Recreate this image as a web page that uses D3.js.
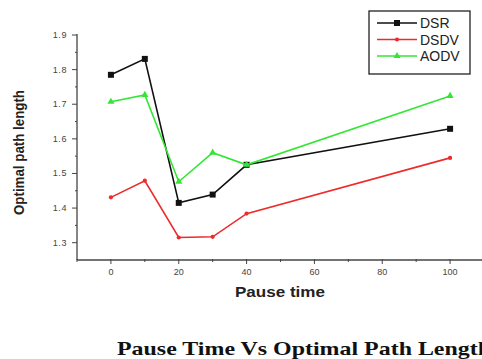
<!DOCTYPE html>
<html>
<head>
<meta charset="utf-8">
<title>Pause Time Vs Optimal Path Length</title>
<style>
  body { margin: 0; background: #fff; }
  svg { display: block; }
</style>
</head>
<body>
<script src="https://cdn.jsdelivr.net/npm/d3@7"></script>
<script>
var pauseTimes = [0, 10, 20, 30, 40, 100];
var dsr  = [1.785, 1.831, 1.415, 1.439, 1.525, 1.629];
var dsdv = [1.431, 1.479, 1.315, 1.317, 1.384, 1.545];
var aodv = [1.707, 1.727, 1.476, 1.560, 1.525, 1.724];
var xTicks = [0, 20, 40, 60, 80, 100];
var yTicks = [1.3, 1.4, 1.5, 1.6, 1.7, 1.8, 1.9];

var series = [
  {name: "DSR",  values: dsr,  color: "#111111", symbol: d3.symbolSquare,   size: 36},
  {name: "DSDV", values: dsdv, color: "#ee2a2a", symbol: d3.symbolCircle,   size: 14},
  {name: "AODV", values: aodv, color: "#33e633", symbol: d3.symbolTriangle, size: 22}
];

var width = 482, height = 359;
var sans = "Liberation Sans, Arial, sans-serif";
var svg = d3.select("body").append("svg")
    .attr("width", width)
    .attr("height", height);

var x = d3.scaleLinear().domain([-10, 110]).range([77, 484]);
var y = d3.scaleLinear().domain([1.25, 1.9]).range([260, 35]);

// axes
var xAxis = svg.append("g").attr("transform", "translate(0,260)");
xAxis.append("line").attr("x1", x(-10)).attr("x2", width).attr("stroke", "#444").attr("stroke-width", 1.3);
xAxis.selectAll(".tk").data(d3.range(-10, 111, 10)).enter().append("line")
    .attr("x1", function(d){return x(d);}).attr("x2", function(d){return x(d);})
    .attr("y1", -1).attr("y2", function(d){return d % 20 === 0 ? 4 : 2;})
    .attr("stroke", "#444");
xAxis.selectAll("text").data(xTicks).enter().append("text")
    .attr("x", function(d){return x(d);}).attr("y", 15)
    .attr("text-anchor", "middle")
    .attr("font-family", sans)
    .attr("font-size", 9).attr("fill", "#444")
    .text(function(d){return d;});

var yAxis = svg.append("g").attr("transform", "translate(77,0)");
yAxis.append("line").attr("y1", y(1.9) - 1).attr("y2", 260).attr("stroke", "#444").attr("stroke-width", 1.3);
yAxis.selectAll(".tk").data(d3.range(1.3, 1.91, 0.05)).enter().append("line")
    .attr("y1", function(d){return y(d);}).attr("y2", function(d){return y(d);})
    .attr("x1", function(d, i){return i % 2 === 0 ? -5 : -2;}).attr("x2", 0)
    .attr("stroke", "#444");
yAxis.selectAll("text").data(yTicks).enter().append("text")
    .attr("x", -10).attr("y", function(d){return y(d) + 3;})
    .attr("text-anchor", "end")
    .attr("font-family", sans)
    .attr("font-size", 9).attr("fill", "#444")
    .attr("letter-spacing", 0.6)
    .text(function(d){return d.toFixed(1);});

// axis titles
svg.append("text")
    .attr("x", 235).attr("y", 297)
    .attr("textLength", 90).attr("lengthAdjust", "spacingAndGlyphs")
    .attr("font-family", sans)
    .attr("font-size", 14).attr("font-weight", "bold").attr("fill", "#222")
    .text("Pause time");
svg.append("text")
    .attr("transform", "translate(24,215) rotate(-90)")
    .attr("textLength", 125).attr("lengthAdjust", "spacingAndGlyphs")
    .attr("font-family", sans)
    .attr("font-size", 14).attr("font-weight", "bold").attr("fill", "#222")
    .text("Optimal path length");

// lines
var line = d3.line()
    .x(function(d, i){return x(pauseTimes[i]);})
    .y(function(d){return y(d);});

series.forEach(function(s){
  svg.append("path")
      .datum(s.values)
      .attr("d", line)
      .attr("fill", "none")
      .attr("stroke", s.color)
      .attr("stroke-width", 1.6);
  svg.selectAll(".m-" + s.name).data(s.values).enter().append("path")
      .attr("class", "m-" + s.name)
      .attr("d", d3.symbol().type(s.symbol).size(s.size))
      .attr("transform", function(d, i){return "translate(" + x(pauseTimes[i]) + "," + y(d) + ")";})
      .attr("fill", s.color);
});

// legend
var legend = svg.append("g");
legend.append("rect")
    .attr("x", 369).attr("y", 11).attr("width", 101).attr("height", 63)
    .attr("fill", "#fff").attr("stroke", "#222").attr("stroke-width", 1.3);
series.forEach(function(s, i){
  var ly = 23 + i * 16.5;
  legend.append("line")
      .attr("x1", 377).attr("x2", 417).attr("y1", ly).attr("y2", ly)
      .attr("stroke", s.color).attr("stroke-width", 1.6);
  legend.append("path")
      .attr("d", d3.symbol().type(s.symbol).size(s.size))
      .attr("transform", "translate(397," + ly + ")")
      .attr("fill", s.color);
  legend.append("text")
      .attr("x", 420).attr("y", ly + 5)
      .attr("font-family", sans)
      .attr("font-size", 14).attr("fill", "#222")
      .text(s.name);
});

// caption
svg.append("text")
    .attr("x", 117).attr("y", 355)
    .attr("textLength", 374).attr("lengthAdjust", "spacingAndGlyphs")
    .attr("font-family", "Liberation Serif, Times New Roman, serif")
    .attr("font-size", 19).attr("font-weight", "bold").attr("fill", "#111")
    .text("Pause Time Vs Optimal Path Length");
</script>
</body>
</html>
